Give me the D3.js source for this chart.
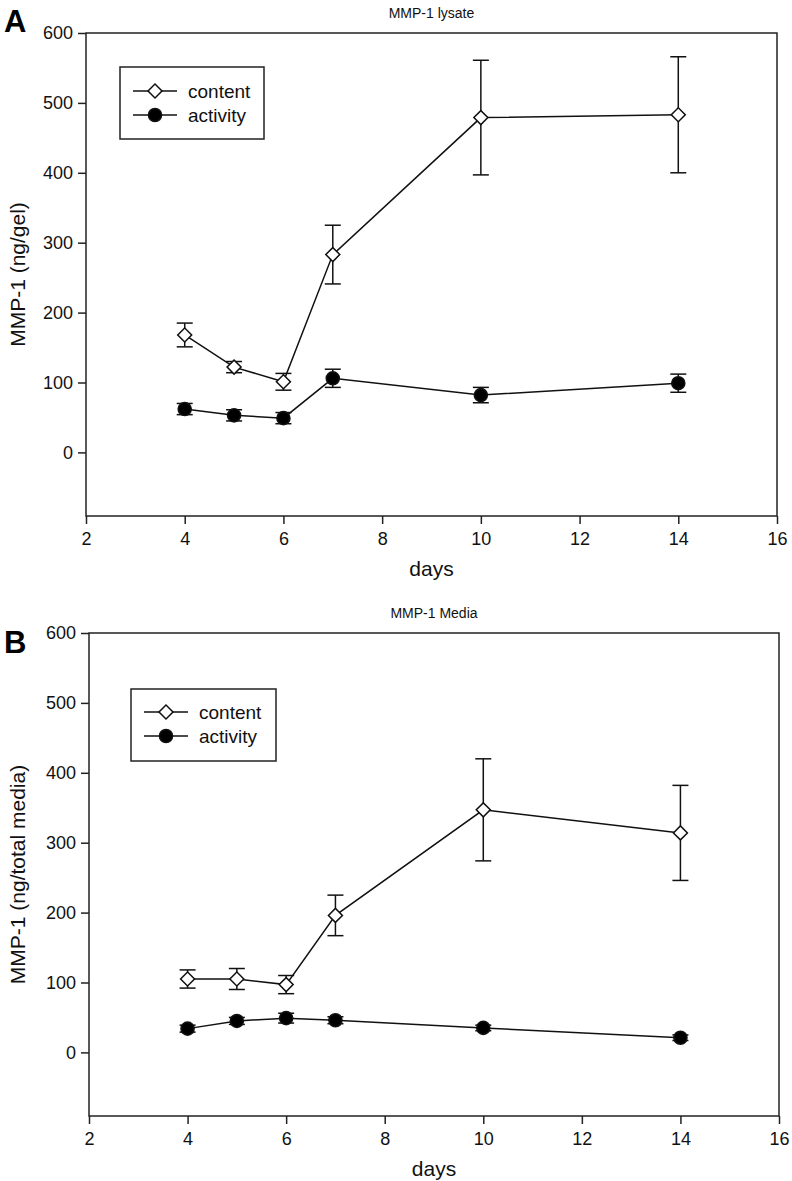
<!DOCTYPE html>
<html>
<head>
<meta charset="utf-8">
<script src="https://cdn.jsdelivr.net/npm/d3@7"></script>
<style>
  body { margin: 0; background: #fff; }
  svg { display: block; font-family: "Liberation Sans", Arial, sans-serif; }
</style>
</head>
<body>
<svg id="chart" width="792" height="1181"></svg>
<script>
// ---- data ----
const days = [4, 5, 6, 7, 10, 14];
const xTicks = [2, 4, 6, 8, 10, 12, 14, 16];
const yTicks = [0, 100, 200, 300, 400, 500, 600];
const seriesNames = ["content", "activity"];

const lysateContent = [168, 122, 101, 283, 479, 483];
const lysateContentErr = [17, 8, 12, 42, 82, 83];
const lysateActivity = [62, 53, 49, 106, 82, 99];
const lysateActivityErr = [8, 8, 8, 13, 11, 13];

const mediaContent = [105, 105, 97, 196, 347, 314];
const mediaContentErr = [13, 15, 13, 29, 73, 68];
const mediaActivity = [34, 45, 49, 46, 35, 21];
const mediaActivityErr = [5, 5, 7, 5, 4, 4];

const panels = [
  { letter: "A", title: "MMP-1 lysate", ylabel: "MMP-1 (ng/gel)",
    content: lysateContent, contentErr: lysateContentErr,
    activity: lysateActivity, activityErr: lysateActivityErr,
    box: { l: 86, r: 777, t: 33, b: 516 }, letterPos: [4, 32],
    legend: { l: 120, r: 264, t: 67, b: 139, row1: 91, row2: 115 } },
  { letter: "B", title: "MMP-1 Media", ylabel: "MMP-1 (ng/total media)",
    content: mediaContent, contentErr: mediaContentErr,
    activity: mediaActivity, activityErr: mediaActivityErr,
    box: { l: 89, r: 779, t: 633, b: 1116 }, letterPos: [4, 653],
    legend: { l: 131, r: 276, t: 689, b: 761, row1: 712, row2: 736 } }
];

const svg = d3.select("#chart");
const sw = 1.5;
const diamond = d3.symbol(d3.symbolSquare, 98);
const circle = d3.symbol(d3.symbolCircle, 135);

panels.forEach(p => {
  const B = p.box;
  const x = d3.scaleLinear().domain([2, 16]).range([B.l, B.r]);
  const y = d3.scaleLinear().domain([-91, 600]).range([B.b, B.t]);
  const g = svg.append("g");

  // frame
  g.append("rect").attr("x", B.l).attr("y", B.t)
    .attr("width", B.r - B.l).attr("height", B.b - B.t)
    .attr("fill", "none").attr("stroke", "#222").attr("stroke-width", sw);

  // axes
  const ya = g.append("g").attr("transform", `translate(${B.l},0)`)
    .call(d3.axisLeft(y).tickValues(yTicks).tickSize(8).tickPadding(5).tickFormat(d3.format("d")));
  const xa = g.append("g").attr("transform", `translate(0,${B.b})`)
    .call(d3.axisBottom(x).tickValues(xTicks).tickSize(8).tickPadding(8).tickFormat(d3.format("d")));
  [ya, xa].forEach(a => {
    a.select(".domain").remove();
    a.selectAll("line").attr("stroke", "#222").attr("stroke-width", sw);
    a.selectAll("text").attr("font-size", 18).attr("fill", "#111")
      .attr("font-family", "'Liberation Sans', Arial, sans-serif");
  });

  // titles
  g.append("text").attr("x", (B.l + B.r) / 2).attr("y", B.t - 15)
    .attr("text-anchor", "middle").attr("font-size", 14).attr("fill", "#111").text(p.title);
  g.append("text").attr("x", p.letterPos[0]).attr("y", p.letterPos[1])
    .attr("font-size", 31).attr("font-weight", "bold").attr("fill", "#000").text(p.letter);
  g.append("text").attr("x", (B.l + B.r) / 2).attr("y", B.b + 60)
    .attr("text-anchor", "middle").attr("font-size", 21).attr("fill", "#111").text("days");
  g.append("text")
    .attr("transform", `translate(25,${(B.t + B.b) / 2}) rotate(-90)`)
    .attr("text-anchor", "middle").attr("font-size", 21).attr("fill", "#111").text(p.ylabel);

  const line = d3.line().x(d => x(d.d)).y(d => y(d.v));
  const series = [
    { name: seriesNames[0], vals: p.content, errs: p.contentErr, sym: diamond, fill: "#fff", rot: 45 },
    { name: seriesNames[1], vals: p.activity, errs: p.activityErr, sym: circle, fill: "#000", rot: 0 }
  ];

  series.forEach(s => {
    const pts = days.map((d, i) => ({ d, v: s.vals[i], e: s.errs[i] }));
    g.append("path").datum(pts).attr("d", line)
      .attr("fill", "none").attr("stroke", "#111").attr("stroke-width", sw);
    const eb = g.append("g").selectAll("g").data(pts).join("g")
      .attr("stroke", "#111").attr("stroke-width", sw);
    eb.append("line").attr("x1", d => x(d.d)).attr("x2", d => x(d.d))
      .attr("y1", d => y(d.v - d.e)).attr("y2", d => y(d.v + d.e));
    eb.append("line").attr("x1", d => x(d.d) - 8).attr("x2", d => x(d.d) + 8)
      .attr("y1", d => y(d.v + d.e)).attr("y2", d => y(d.v + d.e));
    eb.append("line").attr("x1", d => x(d.d) - 8).attr("x2", d => x(d.d) + 8)
      .attr("y1", d => y(d.v - d.e)).attr("y2", d => y(d.v - d.e));
    g.append("g").selectAll("path").data(pts).join("path")
      .attr("d", s.sym)
      .attr("transform", d => `translate(${x(d.d)},${y(d.v)}) rotate(${s.rot})`)
      .attr("fill", s.fill).attr("stroke", "#111").attr("stroke-width", sw);
  });

  // legend
  const L = p.legend;
  g.append("rect").attr("x", L.l).attr("y", L.t).attr("width", L.r - L.l).attr("height", L.b - L.t)
    .attr("fill", "#fff").attr("stroke", "#222").attr("stroke-width", sw);
  [L.row1, L.row2].forEach((ry, i) => {
    const s = series[i];
    const lx0 = L.l + 13, lx1 = L.l + 57, mx = L.l + 35;
    g.append("line").attr("x1", lx0).attr("x2", lx1).attr("y1", ry).attr("y2", ry)
      .attr("stroke", "#111").attr("stroke-width", sw);
    g.append("path").attr("d", s.sym).attr("transform", `translate(${mx},${ry}) rotate(${s.rot})`)
      .attr("fill", s.fill).attr("stroke", "#111").attr("stroke-width", sw);
    g.append("text").attr("x", L.l + 68).attr("y", ry + 7).attr("font-size", 19)
      .attr("fill", "#111").text(s.name);
  });
});
</script>
</body>
</html>
